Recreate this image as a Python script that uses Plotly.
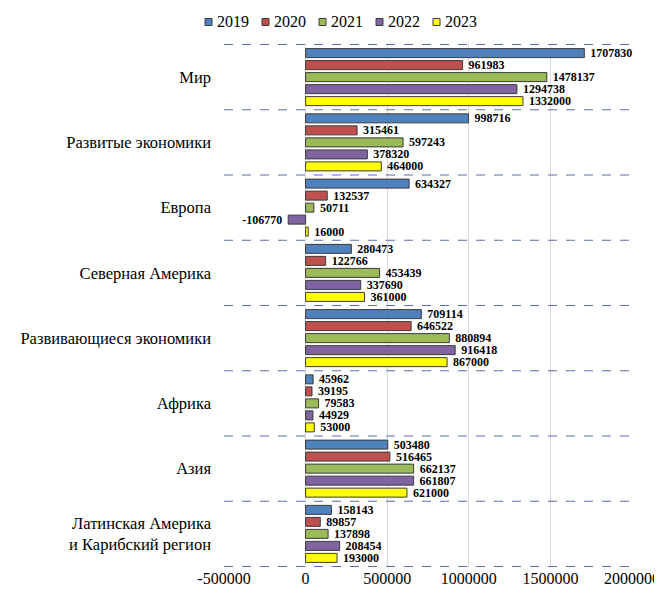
import plotly.graph_objects as go

categories = ["Мир", "Развитые экономики", "Европа", "Северная Америка",
              "Развивающиеся экономики", "Африка", "Азия",
              "Латинская Америка<br>и Карибский регион"]
years = ["2019", "2020", "2021", "2022", "2023"]
v2019 = [1707830, 998716, 634327, 280473, 709114, 45962, 503480, 158143]
v2020 = [961983, 315461, 132537, 122766, 646522, 39195, 516465, 89857]
v2021 = [1478137, 597243, 50711, 453439, 880894, 79583, 662137, 137898]
v2022 = [1294738, 378320, -106770, 337690, 916418, 44929, 661807, 208454]
v2023 = [1332000, 464000, 16000, 361000, 867000, 53000, 621000, 193000]
series = [v2019, v2020, v2021, v2022, v2023]
colors = ["#4F81BD", "#C0504D", "#9BBB59", "#8064A2", "#FFFF00"]
x_ticks = [-500000, 0, 500000, 1000000, 1500000, 2000000]

SERIF = "Liberation Serif, Times New Roman, serif"
W, H = 654, 588
ML, MR, MT, MB = 216, 30, 36, 29
PW, PH = W - ML - MR, H - MT - MB


def px_to_paper(px, py):
    return (px - ML) / PW, (H - MB - py) / PH


def label(v):
    return ("\u00a0" + str(v)) if v >= 0 else (str(v) + "\u00a0")


fig = go.Figure()
for yr, vals, c in zip(years, series, colors):
    fig.add_trace(go.Bar(
        y=categories, x=vals, name=yr, orientation="h", showlegend=False,
        marker=dict(color=c, line=dict(color="#3A3A3A", width=1)),
        text=[label(v) for v in vals], textposition="outside",
        textfont=dict(family=SERIF, size=12, color="black", weight="bold"),
        constraintext="none", cliponaxis=False,
    ))

shapes = []
for i in range(len(categories) + 1):
    shapes.append(dict(type="line", xref="paper", x0=0, x1=1, yref="y",
                       y0=i - 0.5, y1=i - 0.5,
                       line=dict(color="#5A6FA8", width=1, dash="dash")))

# custom legend (small bordered squares with labels right next to them)
annotations = []
leg_x0, leg_step, leg_y, sq = 197, 57, 14, 7
for k, (yr, c) in enumerate(zip(years, colors)):
    sx = leg_x0 + k * leg_step
    x0, y0 = px_to_paper(sx, leg_y + sq / 2)
    x1, y1 = px_to_paper(sx + sq, leg_y - sq / 2)
    shapes.append(dict(type="rect", xref="paper", yref="paper", x0=x0, x1=x1,
                       y0=y0, y1=y1, fillcolor=c, line=dict(color="#3A3A3A", width=1)))
    tx, ty = px_to_paper(sx + sq + 3, leg_y)
    annotations.append(dict(xref="paper", yref="paper", x=tx, y=ty, text=yr,
                            showarrow=False, xanchor="left", yanchor="middle",
                            font=dict(family=SERIF, size=16, color="black")))

fig.update_layout(
    width=W, height=H,
    margin=dict(l=ML, r=MR, t=MT, b=MB, autoexpand=False),
    paper_bgcolor="white", plot_bgcolor="white",
    barmode="group", bargap=0.08, bargroupgap=0.25,
    font=dict(family=SERIF, size=16, color="black"),
    shapes=shapes, annotations=annotations, showlegend=False,
    xaxis=dict(range=[-500000, 2000000], tickvals=x_ticks,
               ticktext=[str(t) for t in x_ticks], automargin=False,
               showgrid=True, gridcolor="#D9D9D9", gridwidth=1,
               zeroline=True, zerolinecolor="#D9D9D9", zerolinewidth=1,
               showline=False, tickfont=dict(family=SERIF, size=16, color="black")),
    yaxis=dict(autorange="reversed", showgrid=False, showline=False, automargin=False,
               ticks="", ticklabelstandoff=12,
               tickfont=dict(family=SERIF, size=16.5, color="black")),
)

fig.write_html("out.html")
